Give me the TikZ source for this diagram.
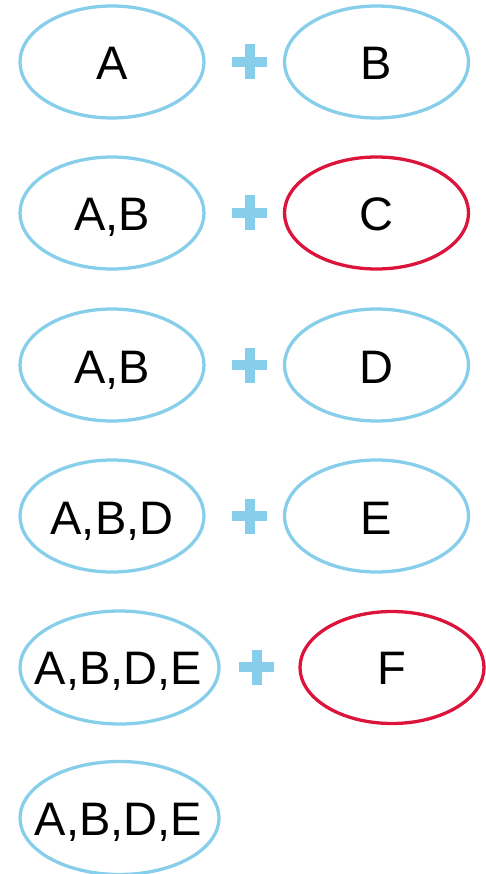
\documentclass[tikz,border=0pt]{standalone}
\usepackage{fontspec}
\setmainfont{Liberation Sans}
\usetikzlibrary{shapes.geometric}
\definecolor{sky}{RGB}{135,206,235}
\definecolor{crim}{RGB}{220,20,60}
\tikzset{
  ell/.style={ellipse, draw=sky, line width=3.3pt, minimum width=184pt, minimum height=112pt, inner sep=0pt},
  wide/.style={minimum width=199pt, minimum height=113pt},
  redell/.style={draw=crim},
  lab/.style={anchor=base, font=\fontsize{47pt}{50pt}\selectfont, inner sep=0pt, text=black},
  plusbar/.style={fill=sky}
}
\newcommand{\plussign}[2]{%
  \fill[plusbar] (#1-17.5,#2-5) rectangle (#1+17.5,#2+5);
  \fill[plusbar] (#1-5,#2-17.5) rectangle (#1+5,#2+17.5);}
\begin{document}
\begin{tikzpicture}[x=1pt,y=-1pt]
\useasboundingbox (0,0) rectangle (486,874);
% row 1
\node[ell] (l1) at (112,62) {};
\node[ell] (r1) at (376.5,62) {};
\node[lab] (tl1) at (112,80) {A};
\node[lab] (tr1) at (376.5,80) {B};
\plussign{249.5}{62}
% row 2
\node[ell] (l2) at (112,213) {};
\node[ell,redell] (r2) at (376.5,213) {};
\node[lab] (tl2) at (112,231) {A,B};
\node[lab] (tr2) at (376.5,231) {C};
\plussign{249.5}{213}
% row 3
\node[ell] (l3) at (112,365) {};
\node[ell] (r3) at (376.5,365) {};
\node[lab] (tl3) at (112,383) {A,B};
\node[lab] (tr3) at (376.5,383) {D};
\plussign{249.5}{365}
% row 4
\node[ell] (l4) at (112,516) {};
\node[ell] (r4) at (376.5,516) {};
\node[lab] (tl4) at (112,534) {A,B,D};
\node[lab] (tr4) at (376.5,534) {E};
\plussign{249.5}{516}
% row 5
\node[ell,wide] (l5) at (119.5,667.5) {};
\node[ell,redell] (r5) at (392,667.5) {};
\node[lab] (tl5) at (118.5,684) {A,B,D,E};
\node[lab] (tr5) at (392,684) {F};
\plussign{256.5}{667}
% row 6
\node[ell,wide] (l6) at (119.5,818) {};
\node[lab] (tl6) at (118.5,835) {A,B,D,E};
\end{tikzpicture}
\end{document}
